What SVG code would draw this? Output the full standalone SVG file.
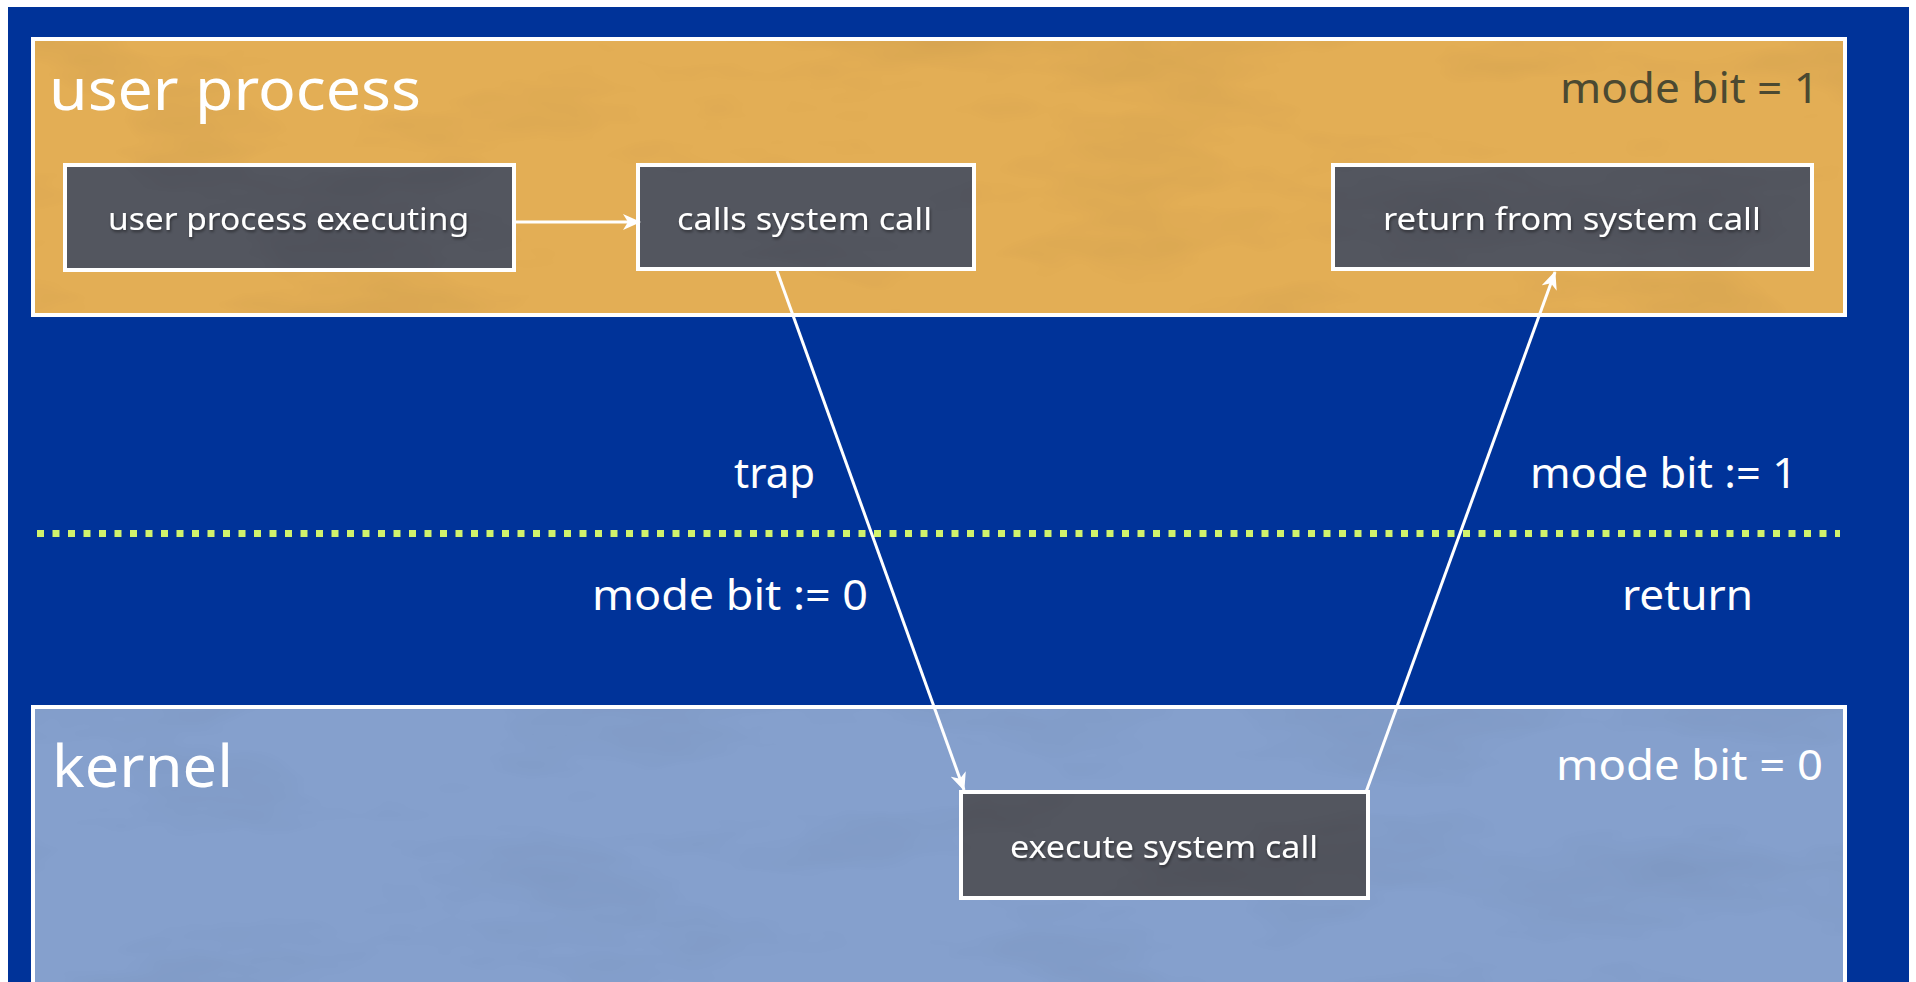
<svg xmlns="http://www.w3.org/2000/svg" width="1916" height="982" viewBox="0 0 1916 982">
  <defs>
    <style>
      .lbl { font-family: "Noto Sans", "DejaVu Sans", sans-serif; fill: #ffffff; }
      .big { font-size: 58px; }
      .mid { font-size: 41px; }
      .small { font-size: 31px; }
      .dark { fill: #4b4931; }
      .zone { stroke: #ffffff; stroke-width: 4; }
      .node rect.box { fill: #53565f; stroke: #ffffff; stroke-width: 4; }
      .conn { stroke: #ffffff; stroke-width: 3; fill: none; marker-end: url(#head); }
    </style>
    <marker id="head" markerUnits="userSpaceOnUse" viewBox="0 0 18 16" markerWidth="18" markerHeight="16" refX="17" refY="8" orient="auto">
      <path d="M0,0 L18,8 L0,16 L5,8 Z" fill="#ffffff"/>
    </marker>
    <!-- soft mottled paper texture laid over the flat fills -->
    <filter id="mottle" x="0" y="0" width="1" height="1" color-interpolation-filters="sRGB">
      <feTurbulence type="fractalNoise" baseFrequency="0.004 0.012" numOctaves="4" seed="7" result="n"/>
      <feColorMatrix in="n" type="matrix" values="0 0 0 0 0  0 0 0 0 0  0 0 0 0 0  0 0 0 -0.8 0.42" result="a"/>
      <feComposite in="a" in2="SourceGraphic" operator="in"/>
    </filter>
    <filter id="shade" x="-5%" y="-20%" width="110%" height="140%">
      <feDropShadow dx="1" dy="2" stdDeviation="1.5" flood-color="#000000" flood-opacity="0.45"/>
    </filter>
  </defs>

  <!-- page and backdrop -->
  <rect x="0" y="0" width="1916" height="982" fill="#ffffff"/>
  <rect x="8" y="7" width="1901" height="975" fill="#003399"/>

  <!-- user-mode band -->
  <g id="user-zone">
    <rect class="zone" x="33" y="39" width="1812" height="276" fill="#e3ae55"/>
    <rect x="35" y="41" width="1808" height="272" fill="#000000" filter="url(#mottle)" opacity="0.16"/>
    <text class="lbl big" x="49" y="110" textLength="372" lengthAdjust="spacingAndGlyphs">user process</text>
    <text class="lbl mid dark" x="1560" y="103" textLength="259" lengthAdjust="spacingAndGlyphs">mode bit = 1</text>
  </g>

  <!-- kernel-mode band -->
  <g id="kernel-zone">
    <rect class="zone" x="33" y="707" width="1812" height="300" fill="#85a0cd"/>
    <rect x="35" y="709" width="1808" height="273" fill="#000000" filter="url(#mottle)" opacity="0.12"/>
    <text class="lbl big" x="52" y="787" textLength="181" lengthAdjust="spacingAndGlyphs">kernel</text>
    <text class="lbl mid" x="1556" y="780" textLength="267" lengthAdjust="spacingAndGlyphs">mode bit = 0</text>
  </g>

  <!-- mode boundary -->
  <line id="boundary" x1="37" y1="533.5" x2="1840" y2="533.5" stroke="#d0f26c" stroke-width="7" stroke-dasharray="7 8.5"/>

  <!-- transition labels -->
  <g id="transition-labels">
    <text class="lbl mid" x="734" y="488" textLength="81" lengthAdjust="spacingAndGlyphs">trap</text>
    <text class="lbl mid" x="592" y="610" textLength="276" lengthAdjust="spacingAndGlyphs">mode bit := 0</text>
    <text class="lbl mid" x="1530" y="488" textLength="267" lengthAdjust="spacingAndGlyphs">mode bit := 1</text>
    <text class="lbl mid" x="1622" y="610" textLength="131" lengthAdjust="spacingAndGlyphs">return</text>
  </g>

  <!-- process steps -->
  <g id="node-executing" class="node">
    <rect class="box" x="65" y="165" width="449" height="105"/>
    <rect x="67" y="167" width="445" height="101" fill="#000000" filter="url(#mottle)" opacity="0.18"/>
    <text class="lbl small" filter="url(#shade)" x="108" y="230" textLength="361" lengthAdjust="spacingAndGlyphs">user process executing</text>
  </g>
  <g id="node-calls" class="node">
    <rect class="box" x="638" y="165" width="336" height="104"/>
    <rect x="640" y="167" width="332" height="100" fill="#000000" filter="url(#mottle)" opacity="0.18"/>
    <text class="lbl small" filter="url(#shade)" x="677" y="230" textLength="255" lengthAdjust="spacingAndGlyphs">calls system call</text>
  </g>
  <g id="node-return" class="node">
    <rect class="box" x="1333" y="165" width="479" height="104"/>
    <rect x="1335" y="167" width="475" height="100" fill="#000000" filter="url(#mottle)" opacity="0.18"/>
    <text class="lbl small" filter="url(#shade)" x="1383" y="230" textLength="378" lengthAdjust="spacingAndGlyphs">return from system call</text>
  </g>
  <g id="node-execute" class="node">
    <rect class="box" x="961" y="792" width="407" height="106"/>
    <rect x="963" y="794" width="403" height="102" fill="#000000" filter="url(#mottle)" opacity="0.18"/>
    <text class="lbl small" filter="url(#shade)" x="1010" y="858" textLength="308" lengthAdjust="spacingAndGlyphs">execute system call</text>
  </g>

  <!-- control flow -->
  <g id="connectors">
    <line class="conn" x1="514" y1="222" x2="640" y2="222"/>
    <line class="conn" x1="777" y1="271" x2="964" y2="790"/>
    <line class="conn" x1="1366" y1="792" x2="1555" y2="272"/>
  </g>
</svg>
